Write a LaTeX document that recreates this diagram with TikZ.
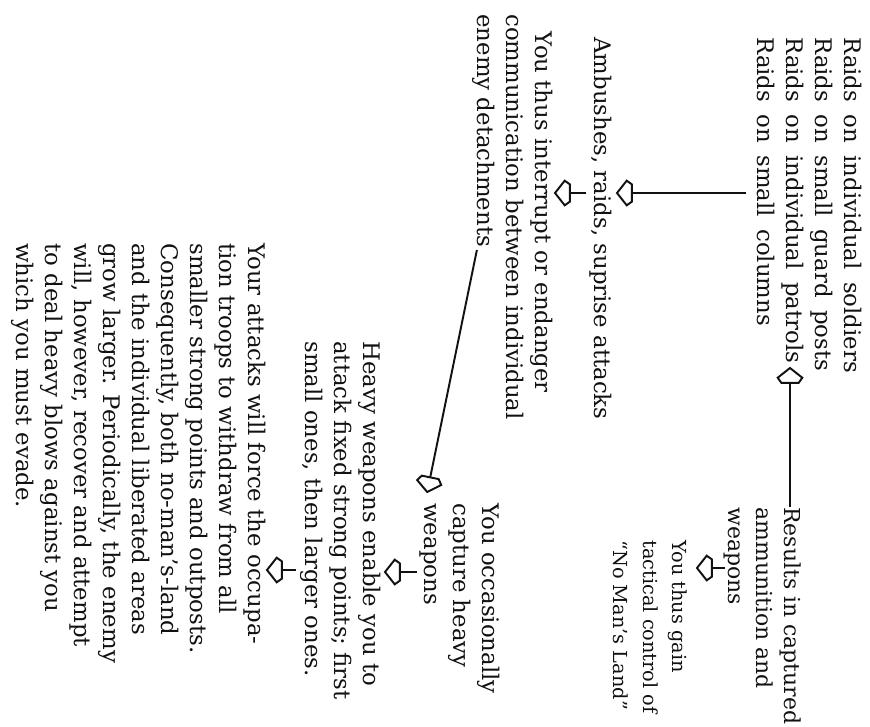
\documentclass[tikz,border=0pt]{standalone}
\usepackage{fontspec}
\setmainfont{DejaVu Serif}
\usepackage{tikz}
\usetikzlibrary{arrows.meta, calc}
\definecolor{gwInk}{HTML}{111111}
\definecolor{gwPaper}{HTML}{FFFFFF}
\newcommand{\gwWideSpace}{\spaceskip=7pt\relax}
% open "house" tip used on every connector
\pgfdeclarearrow{
    name = House,
    parameters = {\the\pgfarrowlength,\the\pgfarrowwidth},
    setup code = {
        \pgfarrowssettipend{0pt}
        \pgfarrowssetlineend{-\pgfarrowlength}
        \pgfarrowssetbackend{-\pgfarrowlength}
        \pgfarrowssetvisualbackend{-\pgfarrowlength}
        \pgfarrowshullpoint{0pt}{0pt}
        \pgfarrowsupperhullpoint{-\pgfarrowlength}{0.5\pgfarrowwidth}
        \pgfarrowssavethe\pgfarrowlength
        \pgfarrowssavethe\pgfarrowwidth
    },
    drawing code = {
        \pgfpathmoveto{\pgfqpoint{0pt}{0pt}}
        \pgfpathlineto{\pgfqpoint{-0.65\pgfarrowlength}{0.5\pgfarrowwidth}}
        \pgfpathlineto{\pgfqpoint{-\pgfarrowlength}{0.35\pgfarrowwidth}}
        \pgfpathlineto{\pgfqpoint{-\pgfarrowlength}{-0.35\pgfarrowwidth}}
        \pgfpathlineto{\pgfqpoint{-0.65\pgfarrowlength}{-0.5\pgfarrowwidth}}
        \pgfpathclose
        \pgfusepathqstroke
    },
    defaults = {length = 8.5pt, width = 14pt}
}
\tikzset{
    gwText/.style={
        anchor=north west,
        inner sep=0pt,
        align=left,
        font=\fontsize{13pt}{16.5pt}\selectfont,
        text=gwInk
    },
    % Variants
    gwWide/.style={gwText, font={\fontsize{13pt}{16.5pt}\selectfont\gwWideSpace}},
    gwTight/.style={gwText, font={\fontsize{12.5pt}{16pt}\selectfont}},
    gwSmall/.style={gwText, font={\fontsize{11pt}{17pt}\selectfont}},
    % Arrows
    gwArrow/.style={-{House}, line width=1.1pt, draw=gwInk}
}
\begin{document}
\begin{tikzpicture}[x=0.02cm, y=0.02cm]
\useasboundingbox (0,0) rectangle (870,-727);
\fill[gwPaper] (0,0) rectangle (870,-727);
% the page is turned a quarter: (along the lines, across the lines)
\begin{scope}[rotate=-90, transform shape]
\node[gwWide] (raids) at (37,862) {Raids on individual soldiers\\Raids on small guard posts\\Raids on individual patrols\\Raids on small columns};
\node[gwText] (ambush) at (37,612) {Ambushes, raids, suprise attacks};
\node[gwText] (interrupt) at (14,553) {\hspace*{10pt}You thus interrupt or endanger\\communication between individual\\enemy detachments};
\node[gwText] (capture) at (503,500) {You occasionally\\capture heavy\\weapons};
\node[gwText] (heavy) at (341,381) {Heavy weapons enable you to\\attack fixed strong points; first\\small ones, then larger ones.};
\node[gwText] (force) at (243,266) {Your attacks will force the occupa-\\tion troops to withdraw from all\\smaller strong points and outposts.\\Consequently, both no-man’s-land\\and the individual liberated areas\\grow larger. Periodically, the enemy\\will, however, recover and attempt\\to deal heavy blows against you\\which you must evade.};
\node[gwTight] (results) at (507,802) {Results in captured\\ammunition and\\weapons};
\node[gwSmall] (control) at (540,688) {You thus gain\\tactical control of\\“No Man’s Land”};

\draw[gwArrow] ($(raids.south west)+(156,-11)$) -- ($(ambush.north west)+(156,5)$);
\draw[gwArrow] ($(ambush.south west)+(156,-3)$) -- ($(interrupt.north west)+(179,2)$);
\draw[gwArrow] ($(interrupt.south west)+(236,5)$) -- ($(capture.south west)+(-11,8)$);
\draw[gwArrow] ($(capture.south west)+(69,-2)$) -- ($(heavy.north west)+(231,4)$);
\draw[gwArrow] ($(heavy.south west)+(229,-4)$) -- ($(force.north west)+(327,1)$);
\draw[gwArrow] ($(results.north west)+(0,-12)$) -- ($(raids.north west)+(331,-72)$);
\draw[gwArrow] ($(results.south west)+(61,1)$) -- ($(control.north west)+(28,9)$);
\end{scope}
\end{tikzpicture}
\end{document}
